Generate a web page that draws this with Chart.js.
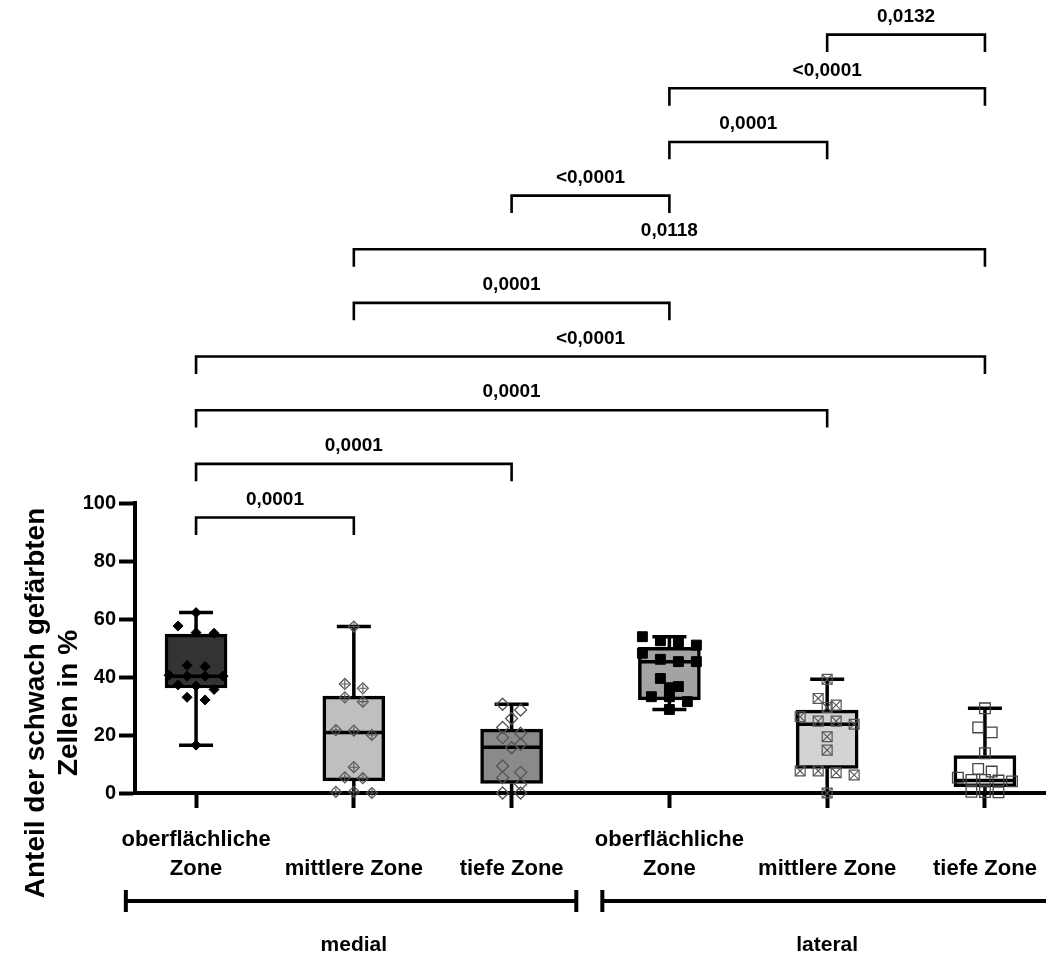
<!DOCTYPE html>
<html lang="de">
<head>
<meta charset="utf-8">
<title>Anteil der schwach gefärbten Zellen</title>
<script src="https://cdn.jsdelivr.net/npm/chart.js@4.4.1/dist/chart.umd.min.js"></script>
<style>
  html, body { margin: 0; padding: 0; background: #fff; }
</style>
</head>
<body>
<canvas id="zonesChart" width="1046" height="960"></canvas>
<script>
const categories = ['oberflächliche\nZone', 'mittlere Zone', 'tiefe Zone', 'oberflächliche\nZone', 'mittlere Zone', 'tiefe Zone'];
const regions = ['medial', 'lateral'];
const yTicks = [0, 20, 40, 60, 80, 100];

// box statistics (percent)
const boxMin = [16.5, 0, 0, 28.8, 0, 0];
const boxQ1 = [36.2, 4.2, 3.3, 32.1, 8.5, 2.2];
const boxMedian = [40.3, 20.9, 15.8, 45.3, 23.7, 4.3];
const boxQ3 = [54.8, 33.4, 22.0, 50.2, 28.6, 12.9];
const boxMax = [62.2, 57.4, 30.6, 53.9, 39.2, 29.2];

// single values per group
const medialSuperficial = [62.2, 57.6, 55.3, 55.1, 44.0, 43.6, 40.6, 40.3, 40.3, 40.3, 37.3, 36.9, 35.7, 33.0, 32.1, 16.5];
const medialMiddle = [57.4, 37.6, 36.1, 33.0, 31.5, 21.7, 21.5, 20.0, 8.9, 5.4, 5.1, 0.4, 0.4, 0];
const medialDeep = [30.6, 28.6, 25.7, 22.6, 20.6, 19.1, 16.8, 15.6, 9.3, 7.1, 5.3, 3.0, 0, 0];
const lateralSuperficial = [53.9, 52.5, 51.6, 51.0, 48.2, 46.1, 45.3, 45.3, 39.5, 36.7, 36.3, 33.2, 33.2, 31.5, 28.8];
const lateralMiddle = [39.2, 32.6, 30.3, 29.5, 26.3, 24.8, 24.8, 23.7, 19.4, 14.8, 7.6, 7.6, 7.0, 6.2, 0];
const lateralDeep = [29.2, 22.6, 20.9, 13.7, 8.3, 7.4, 5.3, 4.5, 4.5, 4.3, 4.0, 0.4, 0.3, 0.2];

// multiple comparisons: group index pairs and p values
const comparisons = [[0, 1], [0, 2], [0, 4], [0, 5], [1, 3], [1, 5], [2, 3], [3, 4], [3, 5], [4, 5]];
const pLabels = ['0,0001', '0,0001', '0,0001', '<0,0001', '0,0001', '0,0118', '<0,0001', '0,0001', '<0,0001', '0,0132'];

const groups = [medialSuperficial, medialMiddle, medialDeep, lateralSuperficial, lateralMiddle, lateralDeep];
const boxFill = ['#333333', '#bfbfbf', '#8a8a8a', '#a3a3a3', '#d3d3d3', '#ffffff'];

// marker look per group; a second entry is drawn on top of the first
const markers = [
  [{ style: 'rectRot', r: 5, fill: '#000', line: '#000', w: 1 }],
  [{ style: 'rectRot', r: 5.5, fill: 'rgba(0,0,0,0)', line: '#555', w: 1.2 }, { style: 'cross', r: 4, fill: 'rgba(0,0,0,0)', line: '#555', w: 1.1 }],
  [{ style: 'rectRot', r: 6, fill: 'rgba(0,0,0,0)', line: '#555', w: 1.3 }],
  [{ style: 'rect', r: 7, fill: '#000', line: '#000', w: 1 }],
  [{ style: 'rect', r: 7, fill: 'rgba(0,0,0,0)', line: '#555', w: 1.2 }, { style: 'crossRot', r: 7, fill: 'rgba(0,0,0,0)', line: '#555', w: 1.1 }],
  [{ style: 'rect', r: 7.5, fill: 'rgba(0,0,0,0)', line: '#444', w: 1.3 }]
];

const FONT = '"Liberation Sans", Arial, sans-serif';
Chart.defaults.font.family = FONT;
Chart.defaults.color = '#000';

// scatter-dot layout: values of about the same height share one row
function swarm(values, center) {
  const sorted = values.slice().sort((a, b) => b - a);
  const rows = [];
  sorted.forEach(v => {
    const row = rows[rows.length - 1];
    if (row && row[0] - v < 3) row.push(v); else rows.push([v]);
  });
  const widest = Math.max(...rows.map(r => r.length));
  const step = widest > 1 ? Math.min(0.114, 0.343 / (widest - 1)) : 0;
  const out = [];
  rows.forEach(row => row.forEach((v, k) => {
    out.push({ x: center + (k - (row.length - 1) / 2) * step, y: v });
  }));
  return out;
}

function bracketLevel(k) {
  return 95 + 18.5 * k;
}

const datasets = [];

groups.forEach((values, i) => {
  const pts = swarm(values, i);
  markers[i].forEach(m => {
    datasets.push({
      type: 'scatter',
      data: pts,
      pointStyle: m.style,
      pointRadius: m.r,
      pointHoverRadius: m.r,
      pointBackgroundColor: m.fill,
      pointBorderColor: m.line,
      pointBorderWidth: m.w,
      clip: false,
      order: 0
    });
  });
});

datasets.push({
  type: 'scatter',
  data: boxMedian.map((v, i) => ({ x: i, y: v })),
  pointStyle: 'line',
  pointRadius: 30,
  pointHoverRadius: 30,
  pointBorderColor: '#000',
  pointBorderWidth: 3.5,
  clip: false,
  order: 1
});

const capData = [];
boxMin.forEach((lo, i) => capData.push({ x: i, y: lo }, { x: i, y: boxMax[i] }));
datasets.push({
  type: 'scatter',
  data: capData,
  pointStyle: 'line',
  pointRadius: 17,
  pointHoverRadius: 17,
  pointBorderColor: '#000',
  pointBorderWidth: 3.5,
  clip: false,
  order: 1
});

const whiskerData = [];
boxMin.forEach((lo, i) => {
  whiskerData.push({ x: i, y: lo }, { x: i, y: boxQ1[i] }, { x: i, y: null },
    { x: i, y: boxQ3[i] }, { x: i, y: boxMax[i] }, { x: i, y: null });
});
datasets.push({
  type: 'line',
  data: whiskerData,
  borderColor: '#000',
  borderWidth: 3.5,
  pointRadius: 0,
  spanGaps: false,
  clip: false,
  order: 2
});

datasets.push({
  type: 'bar',
  data: boxQ1.map((q1, i) => ({ x: i, y: [q1, boxQ3[i]] })),
  backgroundColor: boxFill,
  borderColor: '#000',
  borderWidth: 3.5,
  borderSkipped: false,
  barThickness: 62,
  order: 3
});

const bracketData = [];
comparisons.forEach(([a, b], k) => {
  const h = bracketLevel(k);
  bracketData.push({ x: a, y: h - 6 }, { x: a, y: h }, { x: b, y: h }, { x: b, y: h - 6 }, { x: b, y: null });
});
datasets.push({
  type: 'line',
  data: bracketData,
  borderColor: '#000',
  borderWidth: 2.6,
  borderJoinStyle: 'miter',
  borderCapStyle: 'butt',
  pointRadius: 0,
  spanGaps: false,
  clip: false,
  order: 1
});

const annotations = {
  id: 'annotations',
  afterDraw(chart) {
    const { ctx, chartArea } = chart;
    const x = chart.scales.x;
    const y = chart.scales.y;
    ctx.save();
    ctx.fillStyle = '#000';
    ctx.strokeStyle = '#000';
    ctx.textAlign = 'center';
    ctx.textBaseline = 'middle';

    // p values over the brackets
    ctx.font = 'bold 19px ' + FONT;
    comparisons.forEach(([a, b], k) => {
      const cx = (x.getPixelForValue(a) + x.getPixelForValue(b)) / 2;
      ctx.fillText(pLabels[k], cx, y.getPixelForValue(bracketLevel(k)) - 18);
    });

    // medial / lateral bars
    const barY = chartArea.bottom + 108;
    const spans = [[x.getPixelForValue(-0.445), x.getPixelForValue(2.41), true], [x.getPixelForValue(2.575), chart.width + 10, false]];
    ctx.lineWidth = 4;
    spans.forEach(([x0, x1, rightCap]) => {
      ctx.beginPath();
      ctx.moveTo(x0, barY);
      ctx.lineTo(x1, barY);
      ctx.moveTo(x0, barY - 11);
      ctx.lineTo(x0, barY + 11);
      if (rightCap) {
        ctx.moveTo(x1, barY - 11);
        ctx.lineTo(x1, barY + 11);
      }
      ctx.stroke();
    });
    ctx.font = 'bold 21px ' + FONT;
    ctx.fillText(regions[0], x.getPixelForValue(1), chartArea.bottom + 152);
    ctx.fillText(regions[1], x.getPixelForValue(4), chartArea.bottom + 152);

    // y axis title
    ctx.font = 'bold 28px ' + FONT;
    ctx.translate(0, 703);
    ctx.rotate(-Math.PI / 2);
    ctx.fillText('Anteil der schwach gefärbten', 0, 36);
    ctx.fillText('Zellen in %', 0, 69);
    ctx.restore();
  }
};

new Chart(document.getElementById('zonesChart'), {
  type: 'scatter',
  data: { datasets },
  options: {
    responsive: false,
    animation: false,
    devicePixelRatio: 1,
    layout: { autoPadding: false, padding: { top: 503, right: 0, bottom: 0, left: 0 } },
    plugins: {
      legend: { display: false },
      tooltip: { enabled: false }
    },
    scales: {
      x: {
        type: 'linear',
        min: -0.387,
        max: 5.387,
        offset: false,
        afterBuildTicks: s => { s.ticks = categories.map((c, i) => ({ value: i })); },
        afterFit: s => {
          s.height = 167;
          s.paddingLeft = 0;
          s.paddingRight = 0;
        },
        grid: { drawOnChartArea: false, offset: false, tickLength: 15, tickWidth: 4, tickColor: '#000' },
        border: { width: 4, color: '#000' },
        ticks: {
          autoSkip: false,
          maxRotation: 0,
          minRotation: 0,
          padding: 17,
          color: '#000',
          font: { size: 22, weight: 'bold', lineHeight: 1.32 },
          callback: v => {
            const parts = categories[v].split('\n');
            return parts.length > 1 ? parts : ['', parts[0]];
          }
        }
      },
      y: {
        type: 'linear',
        min: 0,
        max: 100,
        afterBuildTicks: s => { s.ticks = yTicks.map(v => ({ value: v })); },
        afterFit: s => { s.width = 135; },
        grid: { drawOnChartArea: false, tickLength: 16, tickWidth: 4, tickColor: '#000' },
        border: { width: 4, color: '#000' },
        ticks: { padding: 3, color: '#000', font: { size: 20, weight: 'bold' } }
      }
    }
  },
  plugins: [annotations]
});
</script>
</body>
</html>
